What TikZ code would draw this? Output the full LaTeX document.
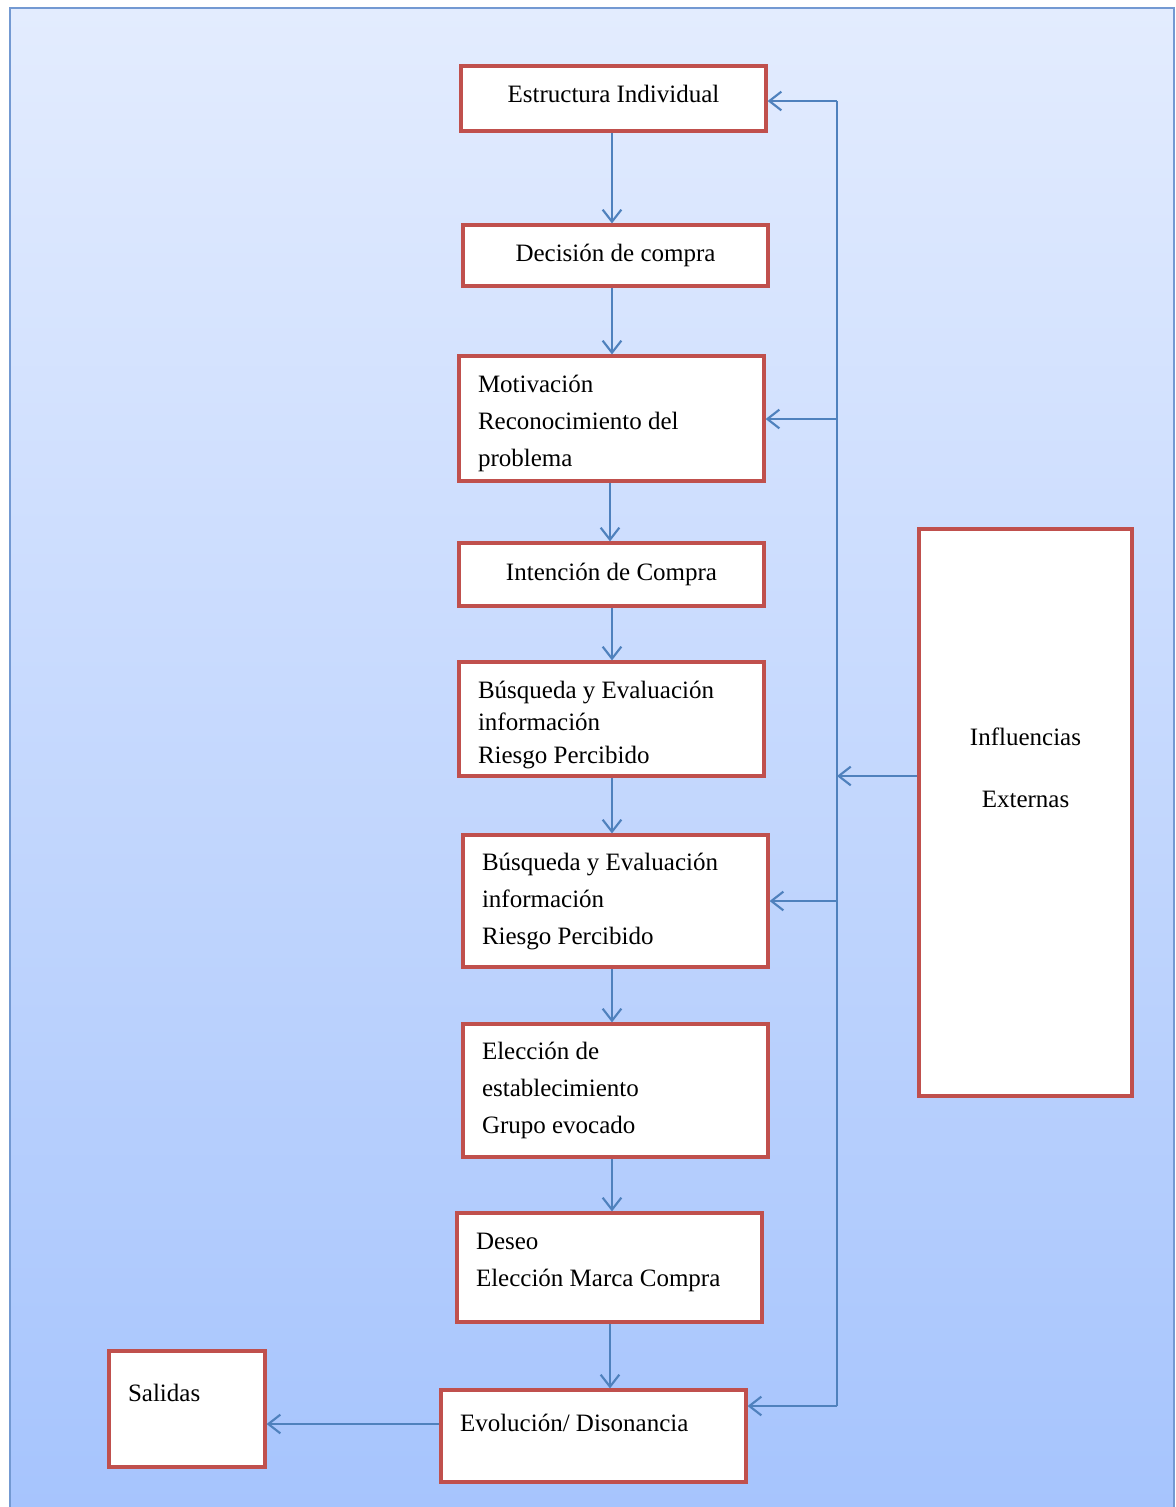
\documentclass[tikz,border=0pt]{standalone}
\usepackage{fontspec}
\setmainfont{Liberation Serif}
\usetikzlibrary{arrows.meta}
\definecolor{bgtop}{HTML}{E3ECFE}
\definecolor{bgbot}{HTML}{A6C4FD}
\definecolor{bgline}{HTML}{7399D2}
\definecolor{boxred}{HTML}{C0504D}
\definecolor{linkblue}{HTML}{4F81BD}
\tikzset{
  box/.style={draw=boxred, line width=2.4pt, fill=white, inner ysep=0pt,
    font=\fontsize{18.75pt}{27.75pt}\selectfont},
  ctext/.style={align=center, inner xsep=0pt},
  ltext/.style={align=flush left, inner xsep=14.25pt, text width=#1,
    execute at begin node={\spaceskip=0pt\xspaceskip=0pt}},
  link/.style={draw=linkblue, line width=1.6pt},
  arr/.style={link, -{Straight Barb[length=9pt,width=14pt]}}
}
\begin{document}
\begin{tikzpicture}[x=0.75pt, y=-0.75pt]
\useasboundingbox (0,0) rectangle (1175,1507);
\clip (0,0) rectangle (1175,1507);
\fill[white] (0,0) rectangle (1175,1507);
\shade[top color=bgtop, bottom color=bgbot] (10,8) rectangle (1174,1512);
\draw[bgline, line width=2.2pt] (10,1512) -- (10,8) -- (1174,8) -- (1174,1512);

% process boxes
\node[box, ctext, minimum width=228.75pt, minimum height=48.75pt,
      text height=13.5pt, text depth=7.9pt] (est) at (613.5,98.5) {Estructura Individual};
\node[box, ctext, minimum width=228.75pt, minimum height=45.75pt] (dec) at (615.5,255.5) {Decisión de compra};
\node[box, ltext=200.25pt, minimum width=228.75pt, minimum height=93.75pt] (mot) at (611.5,418.5) {\rule{0pt}{20.5pt}Motivación\\Reconocimiento del\\problema};
\node[box, ctext, minimum width=228.75pt, minimum height=47.25pt] (int) at (611.5,574.5) {Intención de Compra};
\node[box, ltext=200.25pt, minimum width=228.75pt, minimum height=85.5pt,
      font=\fontsize{18.75pt}{24.4pt}\selectfont] (bus1) at (611.5,719) {\rule{0pt}{22pt}Búsqueda y Evaluación\\información\\Riesgo Percibido};
\node[box, ltext=200.25pt, minimum width=228.75pt, minimum height=99pt] (bus2) at (615.5,901) {Búsqueda y Evaluación\\información\\Riesgo Percibido};
\node[box, ltext=200.25pt, minimum width=228.75pt, minimum height=99.75pt] (ele) at (615.5,1090.5) {Elección de\\establecimiento\\Grupo evocado};
\node[box, ltext=200.25pt, minimum width=228.75pt, minimum height=81.75pt] (des) at (609.5,1267.5) {Deseo\\Elección Marca Compra\rule[-11.5pt]{0pt}{1pt}};
\node[box, ltext=200.25pt, minimum width=228.75pt, minimum height=69pt,
      text height=13.5pt, text depth=20.6pt] (evo) at (593.5,1436) {Evolución/ Disonancia};
\node[box, ltext=88.5pt, minimum width=117pt, minimum height=87pt,
      text height=13.5pt, text depth=25pt] (sal) at (187,1409) {Salidas};
\node[box, ctext, minimum width=159.75pt, minimum height=425.25pt] (inf) at (1025.5,812.5) {Influencias\\[18.75pt]Externas\\[39pt]\mbox{}};

% feedback bus
\coordinate (b1) at (837,101);
\coordinate (b2) at (837,419);
\coordinate (bi) at (837,776);
\coordinate (b3) at (837,901);
\coordinate (b4) at (837,1406);
\draw[link] (b1) -- (b4);
\draw[arr] (b1) -- (b1 -| est.east);
\draw[arr] (b2) -- (b2 -| mot.east);
\draw[arr] (b3) -- (b3 -| bus2.east);
\draw[arr] (b4) -- (b4 -| evo.east);
\draw[arr] (bi -| inf.west) -- (bi);

% main flow
\draw[arr] (est.south -| 612,0) -- (dec.north -| 612,0);
\draw[arr] (dec.south -| 612,0) -- (mot.north -| 612,0);
\draw[arr] (mot.south -| 610,0) -- (int.north -| 610,0);
\draw[arr] (int.south -| 612,0) -- (bus1.north -| 612,0);
\draw[arr] (bus1.south -| 612,0) -- (bus2.north -| 612,0);
\draw[arr] (bus2.south -| 612,0) -- (ele.north -| 612,0);
\draw[arr] (ele.south -| 612,0) -- (des.north -| 612,0);
\draw[arr] (des.south -| 610,0) -- (evo.north -| 610,0);
\draw[arr] (evo.west |- 0,1424) -- (sal.east |- 0,1424);
\end{tikzpicture}
\end{document}
